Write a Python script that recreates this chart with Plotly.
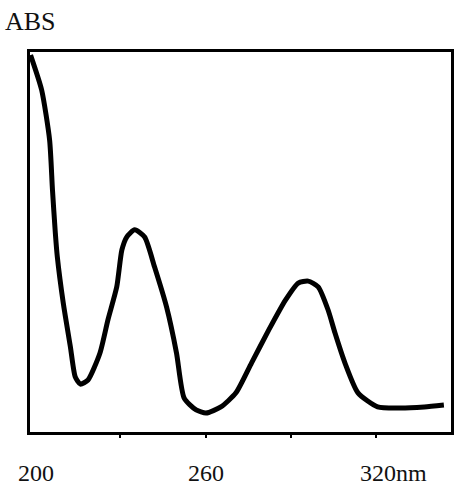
import plotly.graph_objects as go

# Wavelength (nm) and absorbance (arbitrary units, 0-100 of plot height)
wavelength = [198.4, 202.3, 205.1, 206.1, 207.1, 207.8, 209.9, 212.4, 214.1, 215.9,
              218.6, 222.8, 225.6, 228.7, 230.5, 232.2, 235.0, 238.5, 242.0, 246.2,
              249.7, 252.4, 256.6, 260.1, 265.3, 270.6, 276.1, 282.1, 288.0, 292.5,
              296.0, 299.5, 303.0, 305.4, 308.9, 313.5, 320.4, 328.4, 336.8, 343.7]
absorbance = [99.2, 90.0, 76.8, 63.7, 52.4, 46.1, 33.9, 22.4, 14.5, 12.6,
              13.7, 20.8, 29.5, 38.2, 47.9, 51.3, 53.2, 51.3, 43.4, 32.9,
              20.8, 8.9, 5.8, 5.0, 6.6, 10.3, 18.2, 26.8, 34.7, 39.2,
              39.7, 38.2, 32.1, 26.1, 18.2, 10.3, 6.6, 6.3, 6.6, 7.1]

tick_marks = [230, 260, 290, 320]
label_vals = [200, 260, 320]
label_text = ["200", "260", "320nm"]
label_shift = [1, 0, 17]

fig = go.Figure()
fig.add_trace(go.Scatter(x=wavelength, y=absorbance, mode="lines",
                         line=dict(color="black", width=5, shape="spline", smoothing=0.6),
                         hoverinfo="skip", showlegend=False))

font_family = "Liberation Serif, Times New Roman, serif"
for v, t, s in zip(label_vals, label_text, label_shift):
    fig.add_annotation(x=v, y=-0.108, xref="x", yref="paper", text=t, showarrow=False,
                       xshift=s, font=dict(family=font_family, size=24, color="#111"),
                       xanchor="center", yanchor="middle", borderpad=0)

fig.add_annotation(x=-0.062, y=1.08, xref="paper", yref="paper", text="ABS", showarrow=False,
                   font=dict(family=font_family, size=26, color="#111"),
                   xanchor="left", yanchor="middle", borderpad=0)

fig.update_layout(
    width=456, height=488,
    margin=dict(l=30, r=2, t=52, b=56),
    paper_bgcolor="white", plot_bgcolor="white",
    xaxis=dict(range=[198.2, 346.2], showgrid=False, zeroline=False,
               showline=True, mirror=True, linecolor="black", linewidth=3,
               tickvals=tick_marks, ticks="outside", ticklen=3, tickwidth=2,
               tickcolor="black", showticklabels=False),
    yaxis=dict(range=[0, 100], showgrid=False, zeroline=False,
               showline=True, mirror=True, linecolor="black", linewidth=3,
               showticklabels=False, ticks=""),
)

fig.write_html("out.html")
